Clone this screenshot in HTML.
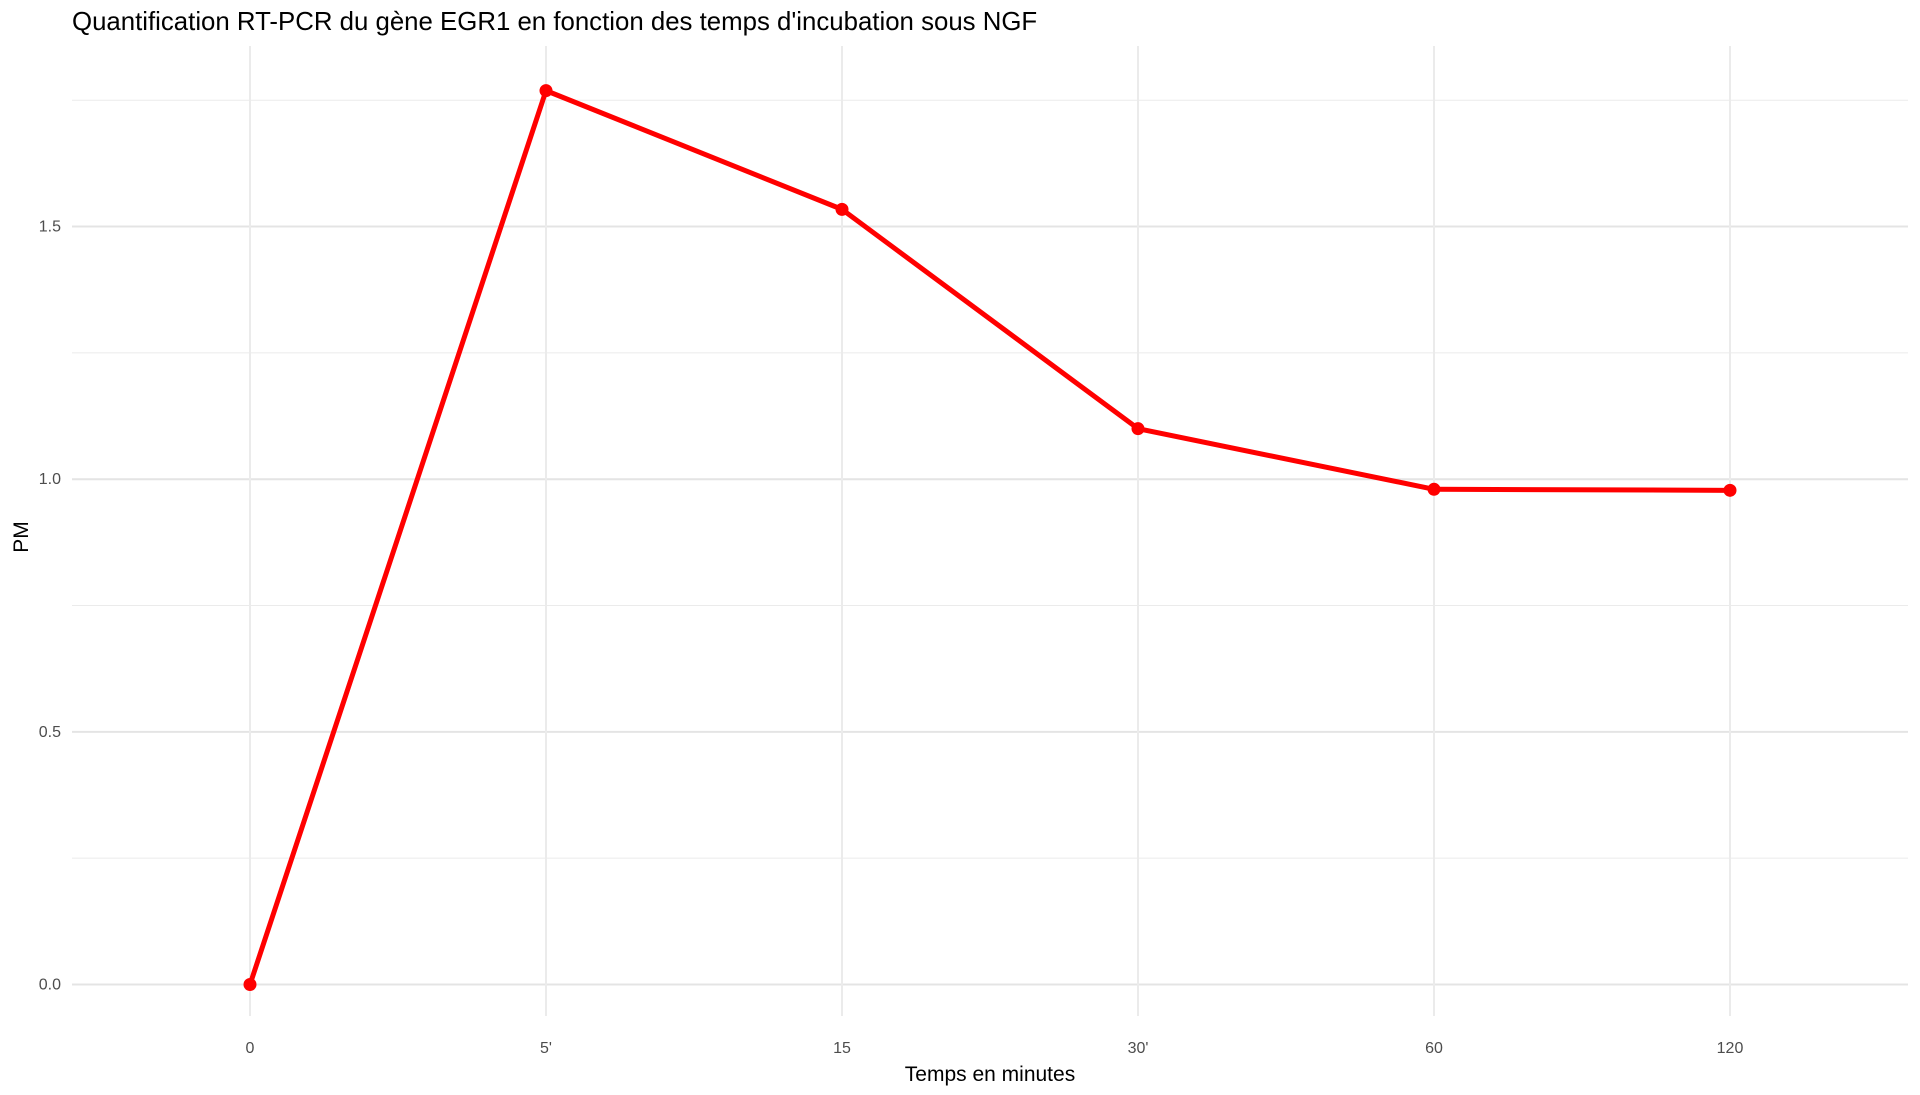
<!DOCTYPE html>
<html><head><meta charset="utf-8"><style>
html,body{margin:0;padding:0;background:#fff;}
svg{display:block;font-family:"Liberation Sans",sans-serif;}
</style></head><body>
<svg id="chart" width="1920" height="1095" viewBox="0 0 1920 1095" xmlns="http://www.w3.org/2000/svg">
<rect width="1920" height="1095" fill="#fff"/>
<text x="72" y="30" font-size="25.8" fill="#000">Quantification RT-PCR du gène EGR1 en fonction des temps d'incubation sous NGF</text>
<g id="grid"></g>
<g id="yticks"></g>
<g id="xticks"></g>
<g id="series"></g>
<text x="990" y="1081" font-size="21" text-anchor="middle" fill="#000">Temps en minutes</text>
<text transform="translate(28,537) rotate(-90)" font-size="21" text-anchor="middle" fill="#000">PM</text>
</svg>
<script>
const categories = ["0","5'","15","30'","60","120"];
const values = [0, 1.769, 1.534, 1.100, 0.980, 0.978];
const yTicks = [0, 0.5, 1.0, 1.5];
const yTickLabels = ["0.0","0.5","1.0","1.5"];
const yMinor = [0.25, 0.75, 1.25, 1.75];

const NS = "http://www.w3.org/2000/svg";
const px0 = 72, px1 = 1908, py0 = 46, py1 = 1016;
function xs(i){ return 250 + i * 296; }
function ys(v){ return 984.5 - v * 505.3; }
function mk(tag, attrs, parent){ const e = document.createElementNS(NS, tag); for (const k in attrs) e.setAttribute(k, attrs[k]); parent.appendChild(e); return e; }

const grid = document.getElementById('grid');
yMinor.forEach(v => {
  const l = mk('line', {x1:px0, x2:px1, y1:ys(v), y2:ys(v), stroke:'#ebebeb', 'stroke-width':1}, grid);
  
  
});
yTicks.forEach(v => {
  const l = mk('line', {x1:px0, x2:px1, y1:ys(v), y2:ys(v), stroke:'#e4e4e4', 'stroke-width':2}, grid);
  
  
});
categories.forEach((c, i) => {
  const l = mk('line', {x1:xs(i), x2:xs(i), y1:py0, y2:py1, stroke:'#ebebeb', 'stroke-width':2}, grid);
  
  
});
const yt = document.getElementById('yticks');
yTicks.forEach((v, i) => {
  const t = mk('text', {x:61, y:ys(v)+5, 'font-size':16, 'text-anchor':'end', fill:'#4d4d4d'}, yt);
  t.textContent = yTickLabels[i];
  
  
});
const xt = document.getElementById('xticks');
categories.forEach((c, i) => {
  const t = mk('text', {x:xs(i), y:1053, 'font-size':16, 'text-anchor':'middle', fill:'#4d4d4d'}, xt);
  t.textContent = c;
  
  
});
const s = document.getElementById('series');
const pts = values.map((v, i) => xs(i) + ',' + ys(v)).join(' ');
const pl = mk('polyline', {points:pts, fill:'none', stroke:'#ff0000', 'stroke-width':5, 'stroke-linejoin':'round'}, s);


values.forEach((v, i) => {
  const c = mk('circle', {cx:xs(i), cy:ys(v), r:6.5, fill:'#ff0000'}, s);
  
  
});
</script>
</body></html>
